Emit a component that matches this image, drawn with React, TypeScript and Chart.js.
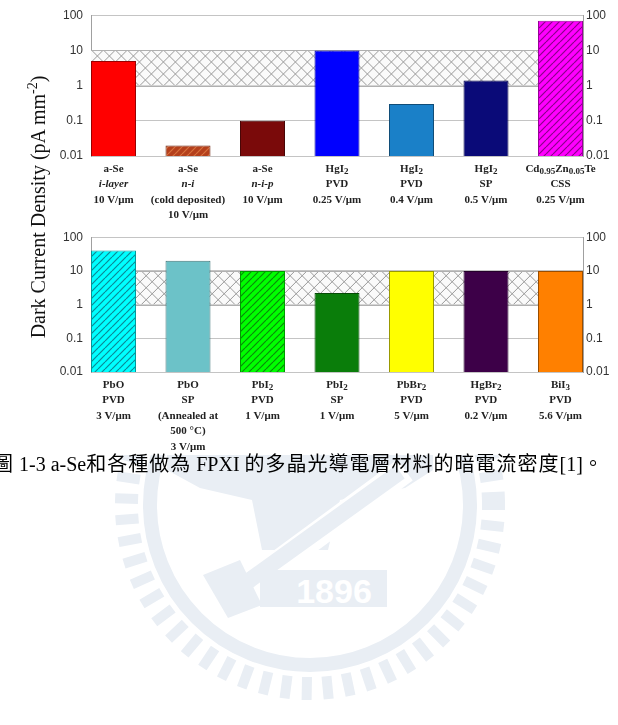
import React, { useEffect, useRef } from "react";
import { Chart, registerables } from "chart.js";
Chart.register(...registerables);

// ---- data ----
const tickValues = [0.01, 0.1, 1, 10, 100];
const tickLabels = ["0.01", "0.1", "1", "10", "100"];
const bandLow = 1;
const bandHigh = 10;

const topLabels = [
  ["a-Se", "~i-layer", "10 V/μm"],
  ["a-Se", "~n-i", "(cold deposited)", "10 V/μm"],
  ["a-Se", "~n-i-p", "10 V/μm"],
  ["HgI_{2}", "PVD", "0.25 V/μm"],
  ["HgI_{2}", "PVD", "0.4 V/μm"],
  ["HgI_{2}", "SP", "0.5 V/μm"],
  ["Cd_{0.95}Zn_{0.05}Te", "CSS", "0.25 V/μm"],
];
const topValues = [5, 0.02, 0.1, 10, 0.3, 1.4, 70];
const topColors = ["#ff0000", "#b4401c", "#7a0a0a", "#0000ff", "#1a80c8", "#0a0a78", "#ff00ff"];
const topHatch = [null, "#d8703e", null, null, null, null, "#8a008a"];

const bottomLabels = [
  ["PbO", "PVD", "3 V/μm"],
  ["PbO", "SP", "(Annealed at", "500 °C)", "3 V/μm"],
  ["PbI_{2}", "PVD", "1 V/μm"],
  ["PbI_{2}", "SP", "1 V/μm"],
  ["PbBr_{2}", "PVD", "5 V/μm"],
  ["HgBr_{2}", "PVD", "0.2 V/μm"],
  ["BiI_{3}", "PVD", "5.6 V/μm"],
];
const bottomValues = [40, 20, 10, 2.2, 10, 10, 10];
const bottomColors = ["#00ffff", "#6cc2c8", "#00ff00", "#0a7d0a", "#ffff00", "#3d0048", "#ff8000"];
const bottomHatch = ["#0a8a96", null, "#0a8a0a", null, null, null, null];

const captionParts: [string, boolean][] = [
  ["圖", true],
  [" 1-3 a-Se", false],
  ["和各種做為", true],
  [" FPXI ", false],
  ["的多晶光導電層材料的暗電流密度", true],
  ["[1]", false],
  ["。", true],
];

const WM = "#e9eef4";

function darker(hex: string) {
  const n = parseInt(hex.slice(1), 16);
  const r = Math.round(((n >> 16) & 255) * 0.6);
  const g = Math.round(((n >> 8) & 255) * 0.6);
  const b = Math.round((n & 255) * 0.6);
  return `rgb(${r},${g},${b})`;
}

function makePattern(bg: string, line: string) {
  const c = document.createElement("canvas");
  c.width = 7;
  c.height = 7;
  const x = c.getContext("2d")!;
  x.fillStyle = bg;
  x.fillRect(0, 0, 7, 7);
  x.strokeStyle = line;
  x.lineWidth = 1.2;
  for (let k = -7; k <= 14; k += 7) {
    x.beginPath();
    x.moveTo(k, 7);
    x.lineTo(k + 7, 0);
    x.stroke();
  }
  return x.createPattern(c, "repeat")!;
}

function drawRich(ctx: CanvasRenderingContext2D, raw: string, cx: number, cy: number) {
  let italic = false;
  let s = raw;
  if (s.startsWith("~")) {
    italic = true;
    s = s.slice(1);
  }
  const segs: { t: string; sub: boolean }[] = [];
  const re = /_\{([^}]*)\}/g;
  let last = 0;
  let m: RegExpExecArray | null;
  while ((m = re.exec(s))) {
    if (m.index > last) segs.push({ t: s.slice(last, m.index), sub: false });
    segs.push({ t: m[1], sub: true });
    last = m.index + m[0].length;
  }
  if (last < s.length) segs.push({ t: s.slice(last), sub: false });
  const font = (sub: boolean) =>
    `${italic ? "italic " : ""}bold ${sub ? 9 : 11}px "Liberation Serif", "Times New Roman", serif`;
  let total = 0;
  const widths = segs.map((g) => {
    ctx.font = font(g.sub);
    const w = ctx.measureText(g.t).width;
    total += w;
    return w;
  });
  let x = cx - total / 2;
  ctx.fillStyle = "#222";
  ctx.textBaseline = "middle";
  ctx.textAlign = "left";
  segs.forEach((g, i) => {
    ctx.font = font(g.sub);
    ctx.fillText(g.t, x, cy + (g.sub ? 3 : 0));
    x += widths[i];
  });
}

const bandPlugin = {
  id: "band",
  beforeDatasetsDraw(chart: any) {
    const { ctx, chartArea: a, scales } = chart;
    const yTop = scales.y.getPixelForValue(bandHigh);
    const yBot = scales.y.getPixelForValue(bandLow);
    const h = yBot - yTop;
    ctx.save();
    ctx.beginPath();
    ctx.rect(a.left, yTop, a.right - a.left, h);
    ctx.clip();
    ctx.fillStyle = "#fafafa";
    ctx.fillRect(a.left, yTop, a.right - a.left, h);
    ctx.strokeStyle = "#9a9a9a";
    ctx.lineWidth = 1;
    const p = 12;
    for (let x = a.left - h - p; x < a.right + h + p; x += p) {
      ctx.beginPath();
      ctx.moveTo(x, yTop);
      ctx.lineTo(x + h, yBot);
      ctx.stroke();
      ctx.beginPath();
      ctx.moveTo(x, yBot);
      ctx.lineTo(x + h, yTop);
      ctx.stroke();
    }
    ctx.restore();
    ctx.save();
    ctx.strokeStyle = "#b0b0b0";
    ctx.beginPath();
    ctx.moveTo(a.left, Math.round(yTop) + 0.5);
    ctx.lineTo(a.right, Math.round(yTop) + 0.5);
    ctx.moveTo(a.left, Math.round(yBot) + 0.5);
    ctx.lineTo(a.right, Math.round(yBot) + 0.5);
    ctx.stroke();
    ctx.restore();
  },
};

function makeLabelPlugin(labels: string[][]) {
  return {
    id: "xlabels",
    afterDraw(chart: any) {
      const { ctx, chartArea, scales } = chart;
      ctx.save();
      labels.forEach((lines, i) => {
        const x = scales.x.getPixelForValue(i);
        lines.forEach((line, j) => drawRich(ctx, line, x, chartArea.bottom + 13 + j * 15.5));
      });
      ctx.restore();
    },
  };
}

function Panel(props: {
  labels: string[][];
  values: number[];
  colors: string[];
  hatch: (string | null)[];
  top: number;
  height: number;
  padTop: number;
  padBottom: number;
}) {
  const ref = useRef<HTMLCanvasElement>(null);
  useEffect(() => {
    const bg = props.colors.map((c, i) => (props.hatch[i] ? makePattern(c, props.hatch[i]!) : c));
    const yCommon = {
      type: "logarithmic" as const,
      min: tickValues[0],
      max: tickValues[tickValues.length - 1],
      afterBuildTicks: (s: any) => {
        s.ticks = tickValues.map((v) => ({ value: v }));
      },
      border: { display: true, color: "#a0a0a0" },
    };
    const chart = new Chart(ref.current!, {
      type: "bar",
      data: {
        datasets: [
          {
            data: props.values.map((v, i) => ({ x: i, y: v })),
            backgroundColor: bg as any,
            borderColor: props.colors.map((c) => darker(c)),
            borderWidth: 1,
            barPercentage: 0.604,
            categoryPercentage: 1,
          },
        ],
      },
      options: {
        animation: false,
        responsive: false,
        maintainAspectRatio: false,
        layout: { padding: { top: props.padTop, bottom: props.padBottom, left: 0, right: 0 } },
        plugins: { legend: { display: false }, tooltip: { enabled: false } },
        scales: {
          x: { type: "linear", min: -0.302, max: 6.302, offset: false, display: false },
          y: {
            ...yCommon,
            position: "left",
            afterFit: (s: any) => {
              s.width = 91;
            },
            grid: { color: "#c4c4c4", drawTicks: false },
            ticks: {
              padding: 8,
              color: "#333",
              font: { family: "'Liberation Sans', Arial, sans-serif", size: 12 },
              callback: (v: any) => tickLabels[tickValues.indexOf(Number(v))] ?? "",
            },
          },
          y2: {
            ...yCommon,
            position: "right",
            afterFit: (s: any) => {
              s.width = 35;
            },
            grid: { display: false, drawTicks: false },
            ticks: {
              padding: 3,
              color: "#333",
              font: { family: "'Liberation Sans', Arial, sans-serif", size: 12 },
              callback: (v: any) => tickLabels[tickValues.indexOf(Number(v))] ?? "",
            },
          },
        },
      } as any,
      plugins: [bandPlugin, makeLabelPlugin(props.labels)],
    });
    return () => chart.destroy();
  }, []);
  return (
    <canvas
      ref={ref}
      width={618}
      height={props.height}
      style={{
        position: "absolute",
        left: 0,
        top: props.top,
        width: 618,
        height: props.height,
        background: "#fff",
      }}
    />
  );
}

function Watermark() {
  const cx = 310;
  const cy = 505;
  const dashes = [];
  for (let a = 0; a < 360; a += 6.5) {
    const r = (a * Math.PI) / 180;
    const c = Math.cos(r);
    const s = Math.sin(r);
    dashes.push(
      <line
        key={a}
        x1={cx + 172 * c}
        y1={cy + 172 * s}
        x2={cx + 195 * c}
        y2={cy + 195 * s}
        stroke={WM}
        strokeWidth={10}
      />
    );
  }
  return (
    <svg width={618} height={725} style={{ position: "absolute", left: 0, top: 0 }}>
      {dashes}
      <circle cx={cx} cy={cy} r={160} fill="none" stroke={WM} strokeWidth={14} />
      <polygon
        points="167,453 433,453 433,470 405,488 340,500 328,550 262,550 252,500 200,488 167,470"
        fill={WM}
      />
      <line x1={215} y1={610} x2={405} y2={470} stroke="#ffffff" strokeWidth={26} />
      <line x1={222} y1={600} x2={400} y2={472} stroke={WM} strokeWidth={16} />
      <polygon points="203,575 240,560 262,605 228,618" fill={WM} />
      <rect x={260} y={570} width={127} height={37} fill={WM} />
      <text
        x={334}
        y={603}
        textAnchor="middle"
        fontFamily="'Liberation Sans', Arial, sans-serif"
        fontWeight="bold"
        fontSize={34}
        fill="#ffffff"
      >
        1896
      </text>
    </svg>
  );
}

export default function App() {
  return (
    <div
      style={{
        position: "absolute",
        left: 0,
        top: 0,
        width: 618,
        height: 725,
        background: "#fff",
        overflow: "hidden",
      }}
    >
      <Watermark />
      <Panel
        labels={topLabels}
        values={topValues}
        colors={topColors}
        hatch={topHatch}
        top={0}
        height={222}
        padTop={11}
        padBottom={66}
      />
      <Panel
        labels={bottomLabels}
        values={bottomValues}
        colors={bottomColors}
        hatch={bottomHatch}
        top={222}
        height={233}
        padTop={5}
        padBottom={83}
      />
      <div
        style={{
          position: "absolute",
          left: 33 - 160,
          top: 207 - 14,
          width: 320,
          height: 28,
          lineHeight: "28px",
          textAlign: "center",
          transform: "rotate(-90deg)",
          fontFamily: "'Liberation Serif', 'Times New Roman', serif",
          fontSize: 20,
          color: "#111",
          whiteSpace: "nowrap",
        }}
      >
        Dark Current Density (pA mm<sup style={{ fontSize: 14 }}>-2</sup>)
      </div>
      <div
        style={{
          position: "absolute",
          left: -7,
          top: 452,
          height: 24,
          lineHeight: "24px",
          fontFamily: "'Liberation Serif', 'Noto Sans CJK TC', serif",
          fontSize: 20,
          color: "#000",
          whiteSpace: "nowrap",
        }}
      >
        {captionParts.map(([t, cjk], i) => (
          <span key={i} style={cjk ? { letterSpacing: "1px" } : undefined}>
            {t}
          </span>
        ))}
      </div>
    </div>
  );
}
